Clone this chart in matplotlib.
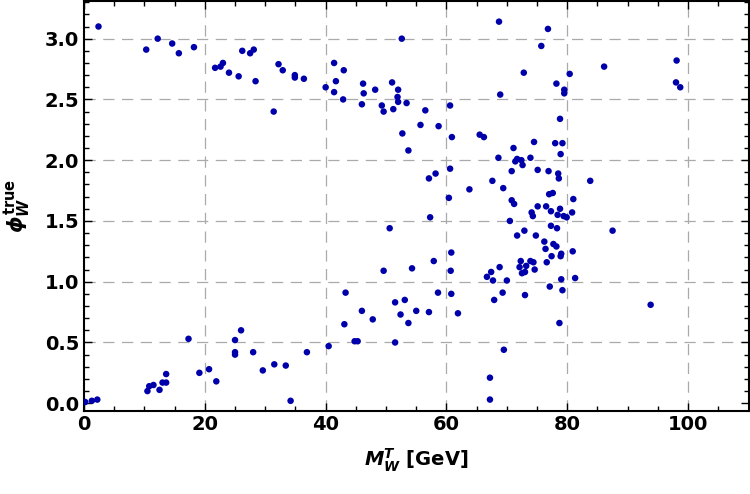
import matplotlib
matplotlib.use("Agg")
import matplotlib.pyplot as plt
from matplotlib.ticker import MultipleLocator
import numpy as np

# transverse mass of the W vs true phi_W
m_wt = [
    2.4, 10.3, 12.2, 14.6, 15.7, 18.2, 21.7, 22.6, 23.0, 24.0, 25.6, 26.2, 27.5, 28.1,
    28.4, 31.4, 32.2, 32.9, 34.9, 34.9, 36.4, 40.0, 41.4, 41.4, 41.7, 43.0, 42.9,
    46.2, 46.0, 46.3, 48.2, 49.3, 49.6, 51.0, 51.2, 52.0, 51.9, 52.0, 52.6, 53.4,
    52.7, 53.7, 55.7, 56.5, 58.7, 57.1, 58.2, 60.6, 60.9, 60.6, 60.4, 63.8, 65.5, 66.2,
    68.7, 76.8, 75.7, 72.8, 80.4, 86.1, 98.1, 98.0, 98.7, 78.2, 79.5, 79.5, 68.9,
    78.8, 74.5, 78.0, 79.2, 71.1, 78.9, 68.6, 71.7, 72.4, 71.4, 72.6, 73.9, 70.8,
    75.1, 76.9, 78.5, 78.6, 67.6, 69.4, 83.8, 77.0, 77.6, 70.8, 71.2, 81.0,
    75.1, 76.5, 77.3, 78.8, 74.1, 74.3, 78.4, 79.4, 79.9, 80.8, 70.5, 77.3, 78.3,
    87.5, 71.7, 72.9, 74.8, 76.2, 77.7, 78.2, 76.4, 80.9, 79.0, 78.9, 77.4, 76.6,
    72.3, 73.9, 74.4, 72.1, 73.2, 68.8, 72.5, 73.0, 74.6, 67.4, 66.7, 67.7, 70.0,
    79.0, 81.3, 77.1, 79.2, 69.3, 67.9, 73.0, 93.8, 78.7, 69.5, 67.2, 67.2,
    0.2, 1.3, 2.2, 10.5, 10.8, 11.5, 12.5, 13.0, 13.6, 13.6, 17.3, 19.1, 20.7, 21.9,
    25.0, 25.0, 25.0, 26.0, 28.0, 29.6, 31.5, 33.4, 34.2, 36.9, 40.5, 43.1, 43.3,
    44.8, 45.3, 46.0, 47.8, 49.6, 50.6, 51.5, 51.5, 52.4, 53.1, 53.7, 54.3, 55.0,
    57.1, 57.3, 57.9, 58.6, 60.8, 60.7, 60.8, 61.9,
]
phi_true = [
    3.10, 2.91, 3.00, 2.96, 2.88, 2.93, 2.76, 2.77, 2.80, 2.72, 2.69, 2.90, 2.88, 2.91,
    2.65, 2.40, 2.79, 2.74, 2.70, 2.68, 2.67, 2.60, 2.80, 2.56, 2.65, 2.74, 2.50,
    2.63, 2.46, 2.55, 2.58, 2.45, 2.40, 2.64, 2.42, 2.58, 2.52, 2.48, 3.00, 2.47,
    2.22, 2.08, 2.29, 2.41, 2.28, 1.85, 1.89, 2.45, 2.19, 1.93, 1.69, 1.76, 2.21, 2.19,
    3.14, 3.08, 2.94, 2.72, 2.71, 2.77, 2.82, 2.64, 2.60, 2.63, 2.58, 2.55, 2.54,
    2.34, 2.15, 2.14, 2.14, 2.10, 2.05, 2.02, 2.01, 2.00, 1.99, 1.96, 2.02, 1.91,
    1.92, 1.91, 1.89, 1.85, 1.83, 1.77, 1.83, 1.72, 1.73, 1.67, 1.64, 1.68,
    1.62, 1.62, 1.58, 1.60, 1.57, 1.54, 1.55, 1.54, 1.53, 1.57, 1.50, 1.46, 1.44,
    1.42, 1.38, 1.42, 1.38, 1.33, 1.31, 1.29, 1.27, 1.25, 1.23, 1.21, 1.21, 1.16,
    1.17, 1.17, 1.16, 1.12, 1.13, 1.12, 1.07, 1.08, 1.10, 1.08, 1.04, 1.01, 1.01,
    1.02, 1.03, 0.96, 0.93, 0.91, 0.85, 0.89, 0.81, 0.66, 0.44, 0.21, 0.03,
    0.01, 0.02, 0.03, 0.10, 0.14, 0.15, 0.11, 0.17, 0.17, 0.24, 0.53, 0.25, 0.28, 0.18,
    0.52, 0.42, 0.40, 0.60, 0.42, 0.27, 0.32, 0.31, 0.02, 0.42, 0.47, 0.65, 0.91,
    0.51, 0.51, 0.76, 0.69, 1.09, 1.44, 0.83, 0.50, 0.73, 0.85, 0.66, 1.11, 0.76,
    0.75, 1.53, 1.17, 0.91, 1.24, 1.09, 0.90, 0.74,
]

x_grid = [20, 40, 60, 80, 100]
y_grid = [0.5, 1.0, 1.5, 2.0, 2.5, 3.0]

plt.rcParams['font.family'] = ['DejaVu Sans']
plt.rcParams['font.weight'] = 'bold'
plt.rcParams['mathtext.fontset'] = 'custom'
plt.rcParams['mathtext.rm'] = 'DejaVu Sans:bold'
plt.rcParams['mathtext.it'] = 'DejaVu Sans:italic'
plt.rcParams['mathtext.bf'] = 'DejaVu Sans:bold'
plt.rcParams['mathtext.bfit'] = 'DejaVu Sans:bold:italic'

fig = plt.figure(figsize=(7.5, 4.94), dpi=100)
ax = fig.add_axes([0.112, 0.169, 0.886, 0.829])

ax.scatter(m_wt, phi_true, s=22, color='#0000aa', edgecolors='none', zorder=3)

# dashed grid, not on the 0 lines
for gx in x_grid:
    ax.axvline(gx, color='#aaaaaa', linestyle=(0, (9, 6)), linewidth=0.9, zorder=1)
for gy in y_grid:
    ax.axhline(gy, color='#aaaaaa', linestyle=(0, (9, 6)), linewidth=0.9, zorder=1)

ax.set_xlim(0, 110)
ax.set_ylim(-0.06, 3.31)
ax.xaxis.set_major_locator(MultipleLocator(20))
ax.xaxis.set_minor_locator(MultipleLocator(5))
ax.yaxis.set_major_locator(MultipleLocator(0.5))
ax.yaxis.set_minor_locator(MultipleLocator(0.1))
ax.tick_params(which='both', direction='in', top=True, right=True, labelsize=14)
ax.tick_params(which='major', length=6, width=1)
ax.tick_params(which='minor', length=3.5, width=1)
for lab in ax.get_xticklabels() + ax.get_yticklabels():
    lab.set_fontweight('bold')
for sp in ax.spines.values():
    sp.set_linewidth(1.5)

ax.set_xlabel(r'$\mathbfit{M}_{\mathbfit{W}}^{\mathbfit{T}}$ [GeV]', fontsize=14, fontweight='bold', labelpad=9)
ax.set_ylabel(r'$\phi_{\mathbfit{W}}^{\mathbf{true}}$', fontsize=15, labelpad=8)

fig.savefig('out.png', dpi=100)
